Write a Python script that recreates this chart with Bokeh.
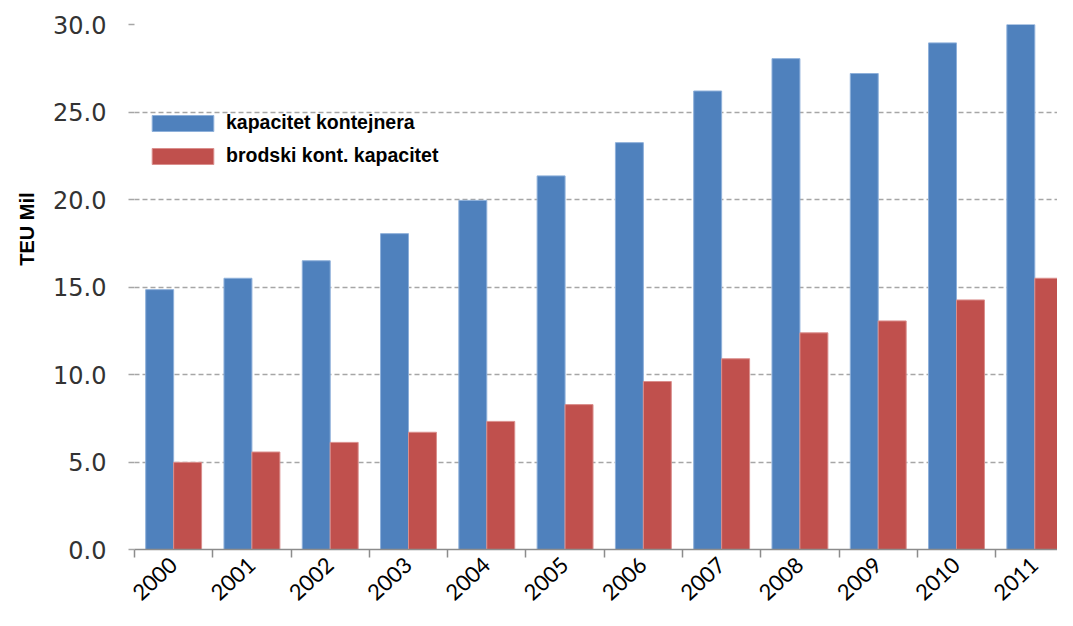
from bokeh.plotting import figure
from bokeh.models import (ColumnDataSource, Range1d, FixedTicker, NumeralTickFormatter,
                          Legend, LegendItem, Title)
from bokeh.transform import dodge
from bokeh.embed import file_html
from bokeh.resources import INLINE

years = ["2000", "2001", "2002", "2003", "2004", "2005",
         "2006", "2007", "2008", "2009", "2010", "2011"]
kapacitet_kontejnera = [14.85, 15.5, 16.5, 18.05, 19.95, 21.35,
                        23.25, 26.2, 28.05, 27.2, 28.95, 30.0]
brodski_kapacitet = [4.98, 5.57, 6.12, 6.7, 7.32, 8.28,
                     9.6, 10.9, 12.38, 13.06, 14.26, 15.5]
y_ticks = [0, 5, 10, 15, 20, 25, 30]

centers = [i + 0.5 for i in range(len(years))]
bounds = [float(i) for i in range(len(years) + 1)]

src = ColumnDataSource(dict(x=centers, a=kapacitet_kontejnera, b=brodski_kapacitet))

BAR_W = 0.357

p = figure(width=1057, height=610, output_backend="svg", toolbar_location=None,
           x_range=Range1d(0, 11.79), y_range=Range1d(0, 30),
           min_border_left=133, min_border_right=0, min_border_top=24,
           min_border_bottom=60)
p.outline_line_color = None
p.background_fill_color = "white"
p.border_fill_color = "white"

r1 = p.vbar(x=dodge("x", -BAR_W / 2), top="a", width=BAR_W, source=src,
            fill_color="#4F81BD", line_color="#8EB0DA", line_width=1)
r2 = p.vbar(x=dodge("x", BAR_W / 2), top="b", width=BAR_W, source=src,
            fill_color="#C0504D", line_color="#DA8E8C", line_width=1)

# x axis
xa = p.xaxis[0]
xa.ticker = FixedTicker(ticks=centers, minor_ticks=bounds)
overrides = {}
for c, y in zip(centers, years):
    overrides[c] = y
    overrides[str(c)] = y
xa.major_label_overrides = overrides
xa.major_tick_out = 0
xa.major_tick_in = 0
xa.minor_tick_out = 8
xa.minor_tick_in = 0
xa.minor_tick_line_color = "#8C8C8C"
xa.minor_tick_line_width = 1.5
xa.axis_line_color = "#8C8C8C"
xa.axis_line_width = 1.5
xa.major_label_orientation = 0.75
xa.major_label_standoff = 4
xa.major_label_text_font = "Lato"
xa.major_label_text_font_size = "22px"
xa.major_label_text_color = "black"

# y axis
ya = p.yaxis[0]
ya.ticker = FixedTicker(ticks=y_ticks)
ya.formatter = NumeralTickFormatter(format="0.0")
ya.axis_line_color = None
ya.major_tick_out = 6
ya.major_tick_in = 0
ya.major_tick_line_color = "#A6A6A6"
ya.major_tick_line_width = 1.5
ya.minor_tick_line_color = None
ya.major_label_standoff = 22
ya.major_label_text_font = "DejaVu Sans"
ya.major_label_text_font_size = "24px"
ya.major_label_text_color = "#333333"

p.xgrid.grid_line_color = None
p.ygrid.grid_line_color = "#A6A6A6"
p.ygrid.grid_line_dash = "5 3"
p.ygrid.grid_line_width = 1.5

t = Title(text="TEU Mil", align="right", offset=168, text_font="Liberation Sans",
          text_font_size="20px", text_font_style="bold", text_color="black")
if hasattr(t, "standoff"):
    t.standoff = 26
p.add_layout(t, "left")

legend = Legend(items=[LegendItem(label="kapacitet kontejnera", renderers=[r1]),
                       LegendItem(label="brodski kont. kapacitet", renderers=[r2])],
                location=(10, 382), padding=0, margin=0, spacing=10,
                glyph_width=77, glyph_height=20, label_height=20, label_standoff=5,
                label_text_font="Liberation Sans", label_text_font_style="bold",
                label_text_font_size="19.5px", label_text_color="black",
                border_line_color=None, background_fill_alpha=0)
p.add_layout(legend, "center")

open("out.html", "w").write(file_html(p, INLINE))
